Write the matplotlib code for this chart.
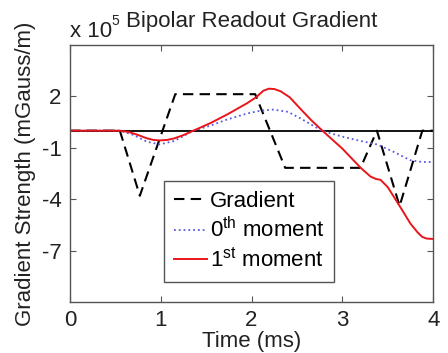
import matplotlib
matplotlib.use('Agg')
import matplotlib.pyplot as plt

plt.rcParams['font.family'] = ['Liberation Sans', 'DejaVu Sans']
plt.rcParams['mathtext.fontset'] = 'custom'
plt.rcParams['mathtext.rm'] = 'Liberation Sans'
plt.rcParams['mathtext.it'] = 'Liberation Sans:italic'

# gradient waveform (x 10^5 mGauss/m) vs time (ms)
grad_t = [0, 0.55, 0.77, 1.16, 2.04, 2.37, 3.20, 3.38, 3.63, 3.88, 4.0]
grad_v = [0, 0, -3.8, 2.13, 2.13, -2.17, -2.17, 0, -4.4, 0, 0]

# 0th moment
m0_t = [0, 0.55, 0.7, 0.85, 0.99, 1.15, 1.36, 1.55, 1.73, 1.95, 2.1, 2.24, 2.4, 2.53,
        2.65, 2.77, 3.0, 3.2, 3.38, 3.55, 3.75, 3.88, 4.0]
m0_v = [0, 0, -0.25, -0.65, -0.8, -0.6, 0, 0.3, 0.65, 1.0, 1.17, 1.23, 1.1, 0.74,
        0.38, 0, -0.35, -0.6, -0.8, -1.2, -1.73, -1.83, -1.83]

# 1st moment
m1_t = [0, 0.55, 0.65, 0.75, 0.85, 0.92, 0.99, 1.07, 1.15, 1.25, 1.36, 1.55, 1.73,
        1.95, 2.05, 2.13, 2.19, 2.25, 2.32, 2.42, 2.53, 2.65, 2.78, 3.0, 3.2, 3.31,
        3.37, 3.42, 3.5, 3.64, 3.75, 3.83, 3.88, 3.93, 4.0]
m1_v = [0, 0, -0.08, -0.25, -0.45, -0.54, -0.57, -0.54, -0.45, -0.26, 0, 0.45, 0.94,
        1.6, 1.95, 2.33, 2.45, 2.43, 2.3, 1.95, 1.32, 0.65, 0, -1.05, -2.16, -2.68,
        -2.82, -2.87, -3.3, -4.48, -5.43, -5.95, -6.2, -6.3, -6.32]

xticks = [0, 1, 2, 3, 4]
yticks = [2, -1, -4, -7]

fig = plt.figure(figsize=(4.48, 3.53), dpi=100)
ax = fig.add_axes([0.156, 0.1445, 0.811, 0.728])

ax.axhline(0, color='black', linewidth=1.3)
ax.plot(grad_t, grad_v, color='black', linestyle=(0, (5, 3)), linewidth=1.5, label='Gradient')
ax.plot(m0_t, m0_v, color='#5a5ae0', linestyle=':', linewidth=1.3, label=r'0$^{\mathrm{th}}$ moment')
ax.plot(m1_t, m1_v, color='#e8161b', linewidth=1.4, label=r'1$^{\mathrm{st}}$ moment')

ax.set_xlim(0, 4)
ax.set_ylim(-10, 5)
ax.set_xticks(xticks)
ax.set_yticks(yticks)
ax.set_yticklabels([str(v) for v in yticks])
ax.tick_params(direction='in', top=True, right=True, labelsize=16, length=4,
               color='#555555', labelcolor='#222222', pad=6)
for s in ax.spines.values():
    s.set_color('#555555')
    s.set_linewidth(1.0)

ax.set_xlabel('Time (ms)', fontsize=16, color='#222222', labelpad=0)
ax.set_ylabel('Gradient Strength (mGauss/m)', fontsize=16, color='#222222', labelpad=4)
ax.set_title('Bipolar Readout Gradient', fontsize=16, color='#222222', pad=13)
ax.text(0, 1.031, 'x 10', transform=ax.transAxes, fontsize=16, color='#222222',
        va='baseline', ha='left')
ax.text(0.113, 1.078, '5', transform=ax.transAxes, fontsize=10, color='#222222',
        va='baseline', ha='left')

leg = ax.legend(loc='lower left', bbox_to_anchor=(0.259, 0.078), borderaxespad=0,
                fontsize=16, handlelength=1.5, handletextpad=0.1, labelspacing=0.25,
                borderpad=0.45, fancybox=False, framealpha=1)
leg.get_frame().set_edgecolor('#555555')
leg.get_frame().set_linewidth(1.0)

fig.savefig('out.png', dpi=100)
